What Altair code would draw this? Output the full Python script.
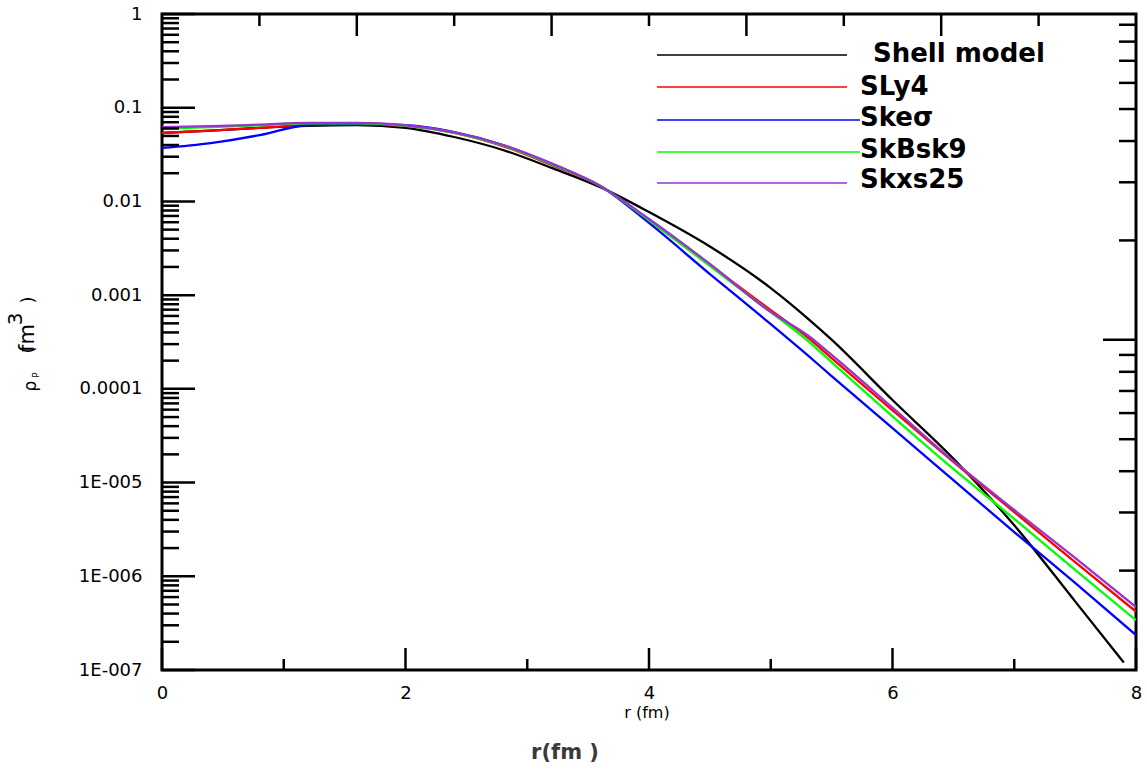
import altair as alt
import pandas as pd

# ---------------- data ----------------
models = ["Shell model", "SLy4", "Ske\u03c3", "SkBsk9", "Skxs25"]
colors = ["#000000", "#ff0000", "#0000ff", "#00ff00", "#9933cc"]

r_grid = [0, 0.4, 0.8, 1.2, 1.6, 2.0, 2.4, 2.8, 3.2, 3.6, 4.0, 4.5, 5.0, 5.3, 5.5, 6.0, 6.5, 7.0, 7.5, 8.0]
r_shell = [0, 0.4, 0.8, 1.2, 1.6, 2.0, 2.4, 2.8, 3.2, 3.6, 4.0, 4.5, 5.0, 5.3, 5.5, 6.0, 6.5, 7.0, 7.5, 7.9]

shell = [0.054, 0.057, 0.061, 0.064, 0.0652, 0.061, 0.0487, 0.0354, 0.0228, 0.0142, 0.0077, 0.0033,
         0.00119, 5.7e-4, 3.35e-4, 7.6e-5, 1.8e-5, 3.5e-6, 5.4e-7, 1.2e-7]
sly4 = [0.0537, 0.057, 0.061, 0.0654, 0.067, 0.064, 0.054, 0.039, 0.0245, 0.0146, 0.0063, 0.0021,
        6.9e-4, 3.57e-4, 2.13e-4, 5.9e-5, 1.66e-5, 4.85e-6, 1.42e-6, 4.2e-7]
skesigma = [0.0372, 0.042, 0.051, 0.0654, 0.067, 0.065, 0.055, 0.040, 0.025, 0.0146, 0.0059, 0.00168,
            4.9e-4, 2.3e-4, 1.37e-4, 3.8e-5, 1.06e-5, 2.96e-6, 8.5e-7, 2.36e-7]
skbsk9 = [0.060, 0.062, 0.065, 0.068, 0.068, 0.064, 0.054, 0.0395, 0.025, 0.0146, 0.0063, 0.00205,
          6.6e-4, 3.3e-4, 1.93e-4, 5.1e-5, 1.4e-5, 4.1e-6, 1.17e-6, 3.4e-7]
skxs25 = [0.0622, 0.0635, 0.066, 0.069, 0.069, 0.065, 0.0545, 0.040, 0.0255, 0.0146, 0.0065, 0.00215,
          6.6e-4, 3.76e-4, 2.3e-4, 6.3e-5, 1.7e-5, 5.1e-6, 1.57e-6, 4.7e-7]

series = [(r_shell, shell), (r_grid, sly4), (r_grid, skesigma), (r_grid, skbsk9), (r_grid, skxs25)]

y_tick_values = [1e-7, 1e-6, 1e-5, 1e-4, 1e-3, 1e-2, 1e-1, 1]
y_tick_labels = ["1E-007", "1E-006", "1E-005", "0.0001", "0.001", "0.01", "0.1", "1"]
x_tick_values = [0, 2, 4, 6, 8]
x_minor_values = [1, 3, 5, 7]
top_major_values = [1.6, 3.2, 4.8, 6.4]
top_minor_values = [0.8, 2.4, 4.0, 5.6, 7.2]
right_major_values = [10]

W, H = 974, 656

xscale = alt.Scale(domain=[0, 8], nice=False, zero=False)
yscale = alt.Scale(type="log", domain=[1e-7, 1], nice=False)

label_expr = "[" + ",".join("'%s'" % s for s in y_tick_labels) + "][round(log(datum.value)/LN10)+7]"
xaxis = alt.Axis(values=x_tick_values, ticks=False, domain=False, grid=False, title=None, labelFlush=False,
                 labelPadding=14, labelFontSize=18, labelFont="DejaVu Sans", labelColor="black", format="d")
yaxis = alt.Axis(values=y_tick_values, labelExpr=label_expr, ticks=False, domain=False, grid=False,
                 labelFlush=False, title=None, labelPadding=20, labelFontSize=18, labelFont="DejaVu Sans",
                 labelColor="black")

one = pd.DataFrame({"a": [0]})

# ---------------- curves ----------------
layers = []
for name, col, (rr, vv) in zip(models, colors, series):
    df = pd.DataFrame({"r": rr, "v": vv, "model": name})
    layers.append(
        alt.Chart(df).mark_line(color=col, strokeWidth=2.3, clip=True, interpolate="monotone").encode(
            x=alt.X("r:Q", scale=xscale, axis=xaxis),
            y=alt.Y("v:Q", scale=yscale, axis=yaxis),
        )
    )

# ---------------- inward ticks ----------------
minor_vals = []
for e in range(-7, 0):
    for k in range(2, 10):
        minor_vals.append(k * 10.0 ** e)

left_major = alt.Chart(pd.DataFrame({"v": y_tick_values})).mark_rule(color="black", strokeWidth=2.5).encode(
    y=alt.Y("v:Q", scale=yscale, axis=yaxis), x=alt.value(0), x2=alt.value(33))
left_minor = alt.Chart(pd.DataFrame({"v": minor_vals})).mark_rule(color="black", strokeWidth=2.5).encode(
    y=alt.Y("v:Q", scale=yscale, axis=yaxis), x=alt.value(0), x2=alt.value(17))

bot_major = alt.Chart(pd.DataFrame({"r": x_tick_values})).mark_rule(color="black", strokeWidth=2.5).encode(
    x=alt.X("r:Q", scale=xscale, axis=xaxis), y=alt.value(H), y2=alt.value(H - 22))
bot_minor = alt.Chart(pd.DataFrame({"r": x_minor_values})).mark_rule(color="black", strokeWidth=2.5).encode(
    x=alt.X("r:Q", scale=xscale, axis=xaxis), y=alt.value(H), y2=alt.value(H - 11))
top_major = alt.Chart(pd.DataFrame({"r": top_major_values})).mark_rule(color="black", strokeWidth=2.5).encode(
    x=alt.X("r:Q", scale=xscale, axis=xaxis), y=alt.value(0), y2=alt.value(22))
top_minor = alt.Chart(pd.DataFrame({"r": top_minor_values})).mark_rule(color="black", strokeWidth=2.5).encode(
    x=alt.X("r:Q", scale=xscale, axis=xaxis), y=alt.value(0), y2=alt.value(12))

# ---------------- legend (manual) ----------------
leg_y = [41, 73, 106, 138, 169]
leg_text_y = [40, 73, 104, 136, 166]
leg_x2 = [685, 685, 698, 698, 685]
leg_text_x = [711, 698, 698, 698, 698]
legend_layers = []
for name, col, ly, ty, lx2, tx in zip(models, colors, leg_y, leg_text_y, leg_x2, leg_text_x):
    legend_layers.append(alt.Chart(one).mark_rule(color=col, strokeWidth=1.6).encode(
        x=alt.value(495), x2=alt.value(lx2), y=alt.value(ly)))
    legend_layers.append(alt.Chart(one).mark_text(
        text=name, font="DejaVu Sans", fontWeight="bold", fontSize=26, align="left", baseline="middle",
        color="black").encode(x=alt.value(tx), y=alt.value(ty)))

# ---------------- titles ----------------
def txt(s, x, y, size, weight="normal", angle=0, color="black"):
    return alt.Chart(one).mark_text(text=s, font="DejaVu Sans", fontSize=size, fontWeight=weight,
                                    angle=angle, align="center", baseline="middle", color=color).encode(
        x=alt.value(x), y=alt.value(y))

titles = [
    txt("r (fm)", 485, 699, 16),
    txt("r(fm )", 403, 739, 21, weight="bold", color="#3a3a3a"),
    txt("\u03c1", -131, 372, 17, angle=270),
    txt("P", -126, 361, 9, angle=270),
    txt("(", -133, 336, 18, angle=270),
    txt("fm", -134, 324, 21, angle=270),
    txt("3", -146, 305, 20, angle=270),
    txt(")", -133, 286, 18, angle=270),
]

inner = alt.layer(*layers, left_major, left_minor, bot_major, bot_minor, top_major, top_minor,
                  *legend_layers, *titles)

# ---------------- right-hand axis (separate log scale) ----------------
rscale = alt.Scale(type="log", domain=[1, 97], nice=False)
right_minor_vals = [k for k in range(2, 10)] + [10 * k for k in range(2, 10)]
right_major = alt.Chart(pd.DataFrame({"w": right_major_values})).mark_rule(color="black", strokeWidth=2.5).encode(
    y=alt.Y("w:Q", scale=rscale, axis=None), x=alt.value(W), x2=alt.value(W - 33))
right_minor = alt.Chart(pd.DataFrame({"w": right_minor_vals})).mark_rule(color="black", strokeWidth=2.5).encode(
    y=alt.Y("w:Q", scale=rscale, axis=None), x=alt.value(W), x2=alt.value(W - 17))
right = alt.layer(right_major, right_minor)

chart = alt.layer(inner, right).resolve_scale(y="independent").properties(
    width=W, height=H,
    autosize=alt.AutoSizeParams(type="none"),
    padding={"left": 162, "top": 14, "right": 11, "bottom": 99},
    background="white",
).configure_view(stroke="black", strokeWidth=3)

chart.save("out.html", embed_options={"renderer": "svg", "actions": False})
